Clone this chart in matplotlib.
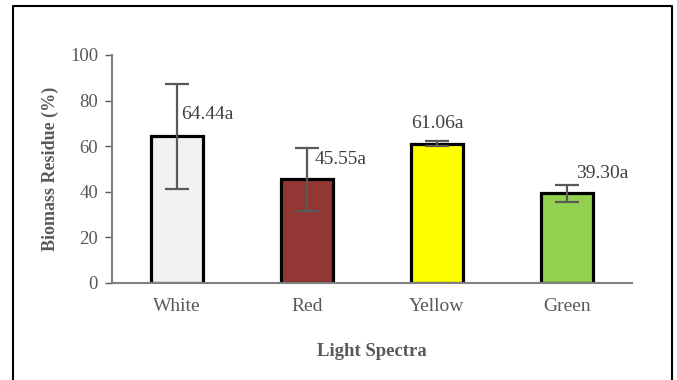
import matplotlib
matplotlib.use("Agg")
import matplotlib.pyplot as plt
from matplotlib.lines import Line2D

spectra = ["White", "Red", "Yellow", "Green"]
residue = [64.44, 45.55, 61.06, 39.30]
errors = [23.0, 13.8, 1.0, 3.65]
labels = ["64.44a", "45.55a", "61.06a", "39.30a"]
colors = ["#F2F2F2", "#943634", "#FFFF00", "#92D050"]

plt.rcParams['font.family'] = ['Liberation Serif', 'DejaVu Serif']
grey = "#595959"

fig = plt.figure(figsize=(6.77, 3.8), dpi=100)
ax = fig.add_axes([0.1654, 0.2553, 0.768, 0.6])

x = range(len(spectra))
ax.bar(x, residue, width=0.4, color=colors, edgecolor="black", linewidth=2.3, zorder=2)
ax.errorbar(x, residue, yerr=errors, fmt="none", ecolor=grey, elinewidth=1.6,
            capsize=8.5, capthick=1.6, zorder=3)

# label positions as in the original (moved by hand)
lab_pos = [(0.035, 73.7, "left"), (0.06, 54, "left"), (0.0, 70, "center"), (0.07, 48, "left")]
for i, (dx, y, ha) in enumerate(lab_pos):
    ax.text(i + dx, y, labels[i], ha=ha, va="center", fontsize=14, color="#404040")

ax.set_xlim(-0.5, 3.5)
ax.set_ylim(0, 100)
ax.set_yticks([0, 20, 40, 60, 80, 100])
ax.set_xticks(list(x))
ax.set_xticklabels(spectra)
ax.tick_params(axis="y", colors=grey, labelsize=13.5, length=5, width=1, pad=5)
ax.tick_params(axis="x", colors=grey, labelsize=14, length=0, pad=11)
for lab in ax.get_xticklabels() + ax.get_yticklabels():
    lab.set_color(grey)
for s in ["top", "right"]:
    ax.spines[s].set_visible(False)
for s in ["left", "bottom"]:
    ax.spines[s].set_color("#808080")
    ax.spines[s].set_linewidth(1.5)

ax.set_ylabel("Biomass Residue (%)", fontsize=13, fontweight="bold", color=grey, labelpad=8)
ax.set_xlabel("Light Spectra", fontsize=13.5, fontweight="bold", color=grey, labelpad=20)

# chart-area border (left, top, right)
x0, x1, y0, y1 = 13 / 677, 672 / 677, 0.0, 1 - 6 / 380
fig.add_artist(Line2D([x0, x0, x1, x1], [y0, y1, y1, y0], transform=fig.transFigure,
                      color="black", linewidth=1.5))

fig.savefig("out.png", dpi=100)
